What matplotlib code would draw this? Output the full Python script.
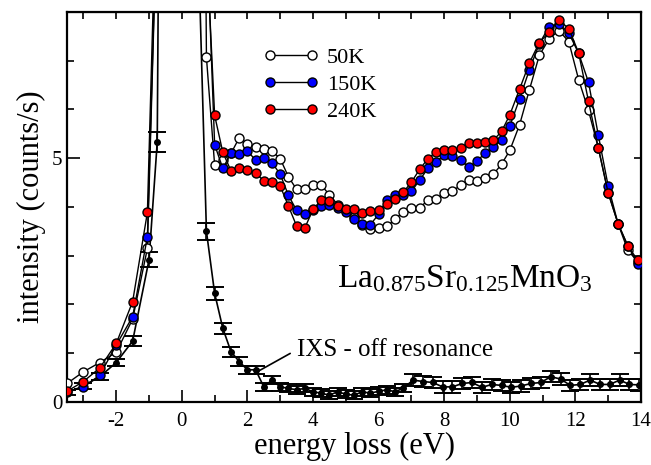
#!/usr/bin/env python3
"""RIXS spectra of La0.875Sr0.125MnO3 at three temperatures plus off-resonance IXS."""

import numpy as np
import matplotlib
matplotlib.use("Agg")
import matplotlib.pyplot as plt
from matplotlib.ticker import MultipleLocator, FixedLocator

plt.rcParams["font.family"] = ["Liberation Serif", "DejaVu Serif"]
plt.rcParams["mathtext.fontset"] = "custom"
plt.rcParams["mathtext.rm"] = "Liberation Serif"
plt.rcParams["mathtext.default"] = "regular"
plt.rcParams["axes.unicode_minus"] = False

# energy grid of the RIXS scans (points beyond the axes sit on the elastic line)
energy = ([-3.5, -3.0, -2.5, -2.0, -1.5, -1.05, -0.55, 0.5, 0.75]
          + list(np.arange(1.0, 10.01, 0.25))
          + [10.3, 10.6, 10.9, 11.2, 11.5, 11.8, 12.1, 12.4, 12.7, 13.0, 13.3, 13.6, 13.9])

i_50K = [0.38, 0.62, 0.81, 1.02, 1.70, 3.15, 15.0, 30.0, 7.07,
         4.86, 4.96, 5.10, 5.42, 5.30, 5.23, 5.18, 5.15, 4.99, 4.62, 4.36, 4.36,
         4.45, 4.45, 4.25, 4.05, 3.92, 3.80, 3.63, 3.55, 3.57, 3.60, 3.75, 3.90,
         3.98, 3.98, 4.14, 4.16, 4.29, 4.32, 4.45, 4.55, 4.53, 4.60, 4.67, 4.88, 5.16,
         5.69, 6.41, 7.11, 7.45, 7.62, 7.39, 6.61, 5.98, 5.21, 4.29, 3.66, 3.11, 2.88]

i_150K = [0.20, 0.31, 0.55, 1.17, 1.75, 3.39, 15.0, 30.0, 9.8,
          5.28, 4.79, 5.11, 5.08, 5.15, 4.96, 5.01, 4.91, 4.67, 4.24, 3.93, 3.85,
          3.93, 4.02, 4.05, 3.98, 3.90, 3.76, 3.66, 3.64, 3.85, 4.14, 4.24, 4.24,
          4.32, 4.55, 4.79, 4.93, 5.06, 5.05, 4.96, 4.82, 4.94, 5.11, 5.23, 5.37, 5.66,
          6.22, 6.82, 7.35, 7.70, 7.76, 7.57, 7.15, 6.56, 5.47, 4.43, 3.66, 3.20, 2.84]

i_240K = [0.22, 0.42, 0.70, 1.20, 2.06, 3.89, 16.0, 30.0, 9.4,
          5.88, 5.12, 4.74, 4.81, 4.75, 4.69, 4.54, 4.52, 4.43, 4.02, 3.61, 3.57,
          3.95, 4.14, 4.12, 4.02, 3.95, 3.95, 3.87, 3.91, 3.93, 4.07, 4.16, 4.30,
          4.51, 4.77, 4.99, 5.13, 5.16, 5.16, 5.22, 5.31, 5.31, 5.33, 5.37, 5.55, 5.89,
          6.42, 6.96, 7.37, 7.59, 7.83, 7.66, 7.16, 6.17, 5.21, 4.29, 3.66, 3.20, 2.91]

# off-resonance IXS
ixs_energy = ([-3.5, -3.0, -2.5, -2.0, -1.5, -1.0, -0.75, -0.5, 0.5]
              + list(np.arange(0.75, 6.76, 0.25))
              + list(np.arange(7.05, 13.96, 0.3)))
ixs_int = [0.19, 0.33, 0.52, 0.81, 1.25, 2.92, 5.33, 30.0, 9.4,
           3.50, 2.23, 1.51, 1.03, 0.83, 0.66, 0.66, 0.31, 0.45, 0.31, 0.28, 0.25,
           0.28, 0.21, 0.18, 0.14, 0.21, 0.16, 0.14, 0.21, 0.18, 0.22, 0.25, 0.21, 0.28,
           0.45, 0.42, 0.40, 0.31, 0.31, 0.38, 0.40, 0.30, 0.36, 0.34, 0.30, 0.33,
           0.38, 0.40, 0.52, 0.47, 0.34, 0.36, 0.45, 0.36, 0.36, 0.45, 0.36, 0.35]
ixs_err = ([0.05, 0.06, 0.07, 0.08, 0.10, 0.15, 0.20, 0.5, 0.3,
            0.17, 0.13, 0.12, 0.10, 0.10]
           + [0.08] * 20 + [0.12] * 24)


def main() -> None:
    fig = plt.figure(figsize=(6.51, 4.65), dpi=100)
    ax = fig.add_axes([0.103, 0.1355, 0.8816, 0.8387])

    ax.errorbar(ixs_energy, ixs_int, yerr=ixs_err, color="black", lw=1.2,
                marker="o", ms=4, capsize=6.5, capthick=1.4, elinewidth=1.2, zorder=2)

    style = dict(color="black", lw=1.0, marker="o", ms=6.5, mec="black", mew=1.0)
    ax.plot(energy, i_50K, mfc="white", label="50K", zorder=3, **style)
    ax.plot(energy, i_150K, mfc="blue", label="150K", zorder=4, **style)
    ax.plot(energy, i_240K, mfc="red", label="240K", zorder=5, **style)

    ax.set_xlim(-3.5, 14)
    ax.set_ylim(0, 8)
    ax.xaxis.set_major_locator(MultipleLocator(2))
    ax.xaxis.set_minor_locator(MultipleLocator(1))
    ax.yaxis.set_major_locator(FixedLocator([0, 5]))
    ax.yaxis.set_minor_locator(MultipleLocator(1))
    ax.tick_params(which="both", direction="in", labelsize=15, width=1.2)
    ax.tick_params(which="major", length=9)
    ax.tick_params(which="minor", length=5)
    ax.tick_params(axis="x", which="major", pad=7)
    for sp in ax.spines.values():
        sp.set_linewidth(1.6)

    top = ax.secondary_xaxis("top")
    top.set_xticks(np.arange(-3, 15, 1))
    top.tick_params(direction="in", length=5, width=1.2, labeltop=False)
    right = ax.secondary_yaxis("right")
    right.set_yticks(np.arange(1, 8, 1))
    right.tick_params(direction="in", length=5, width=1.2, labelright=False)

    ax.set_xlabel("energy loss (eV)", fontsize=22, labelpad=1)
    ax.set_ylabel("intensity (counts/s)", fontsize=22, labelpad=4)

    ax.legend(loc="upper left", bbox_to_anchor=(0.315, 0.95), frameon=False,
              numpoints=2, fontsize=16, handlelength=2.5, handletextpad=0.35,
              labelspacing=0.3, borderpad=0.2)

    ax.text(4.73, 2.36, "La$_{0.875}$Sr$_{0.125}$MnO$_3$", fontsize=24,
            va="baseline", ha="left")
    ax.annotate("IXS - off resonance", xy=(2.3, 0.62), xytext=(3.5, 1.07),
                fontsize=18, va="center", ha="left",
                arrowprops=dict(arrowstyle="-", color="black", lw=1.2,
                                relpos=(0, 0.5), shrinkA=3, shrinkB=0))

    fig.savefig("out.png", dpi=100)


if __name__ == "__main__":
    main()
